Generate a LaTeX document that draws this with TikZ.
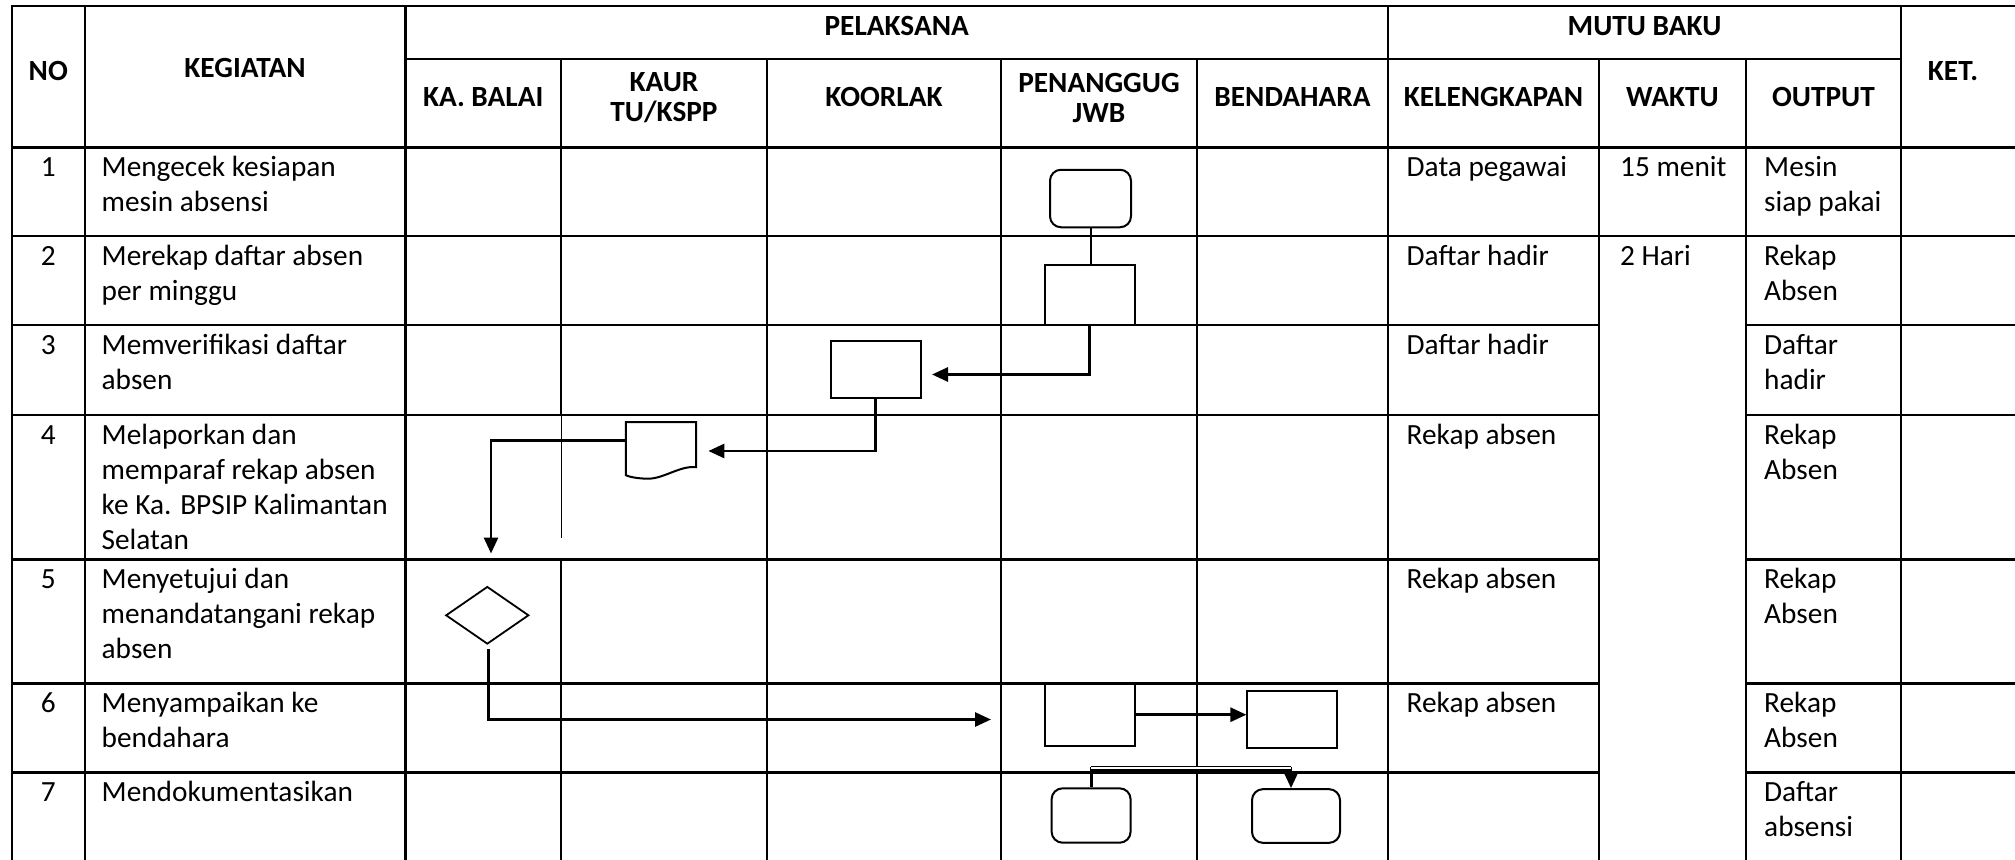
\documentclass[tikz,border=0pt]{standalone}
\usepackage{fontspec}
\setmainfont{Carlito}
\usetikzlibrary{arrows.meta,shapes.geometric,calc}

\newcommand{\cellfont}{\fontsize{29.3}{35}\selectfont}
\newcommand{\headfont}{\fontsize{29.3}{30.5}\selectfont\bfseries}

\begin{document}
\begin{tikzpicture}[x=1pt,y=-1pt,
  grid/.style={line width=2.3pt, line cap=rect},
  thin grid/.style={line width=1pt},
  txt/.style={inner sep=0pt, anchor=north west, align=left, font=\cellfont},
  num/.style={inner sep=0pt, anchor=north, font=\cellfont},
  head/.style={inner sep=0pt, align=center, font=\headfont},
  box/.style={draw, line width=2pt, inner sep=0pt},
  term/.style={box, rounded corners=11pt},
  link/.style={line width=2.8pt, -{Triangle[length=16pt,width=14pt]}},
  plain/.style={line width=2pt}
]
\useasboundingbox (0,0) rectangle (2015,859);

% ---------- table grid ----------
\draw[grid] (11.7,6) -- (2015,6);
\draw[grid] (405.5,59) -- (1901,59);
\draw[grid] (11.7,147.5) -- (2015,147.5);
\draw[grid] (11.7,236) -- (2015,236);
\foreach \y in {325,415,559.5,683.5,772.5}{
  \draw[grid] (11.7,\y) -- (1599,\y);
  \draw[grid] (1746,\y) -- (2015,\y);
}
\foreach \x in {11.7,85,405.5,1388,1901}
  \draw[grid] (\x,6) -- (\x,859);
\foreach \x in {767,1001,1197,1599,1746}
  \draw[grid] (\x,59) -- (\x,859);
\draw[grid] (561,59) -- (561,415);
\draw[grid] (561,559.5) -- (561,859);
\draw[thin grid] (561,415) -- (561,538.3);

% ---------- headers ----------
\node[head] (hNO) at (48.3,71) {NO};
\node[head] (hKEG) at (245,68) {KEGIATAN};
\node[head] (hPEL) at (896.7,26) {PELAKSANA};
\node[head] (hMUTU) at (1644.5,26) {MUTU BAKU};
\node[head] (hKET) at (1953,71) {KET.};
\node[head] (hKA) at (483.2,97) {KA. BALAI};
\node[head] (hKAUR) at (664,97.8) {KAUR\\TU/KSPP};
\node[head] (hKOOR) at (884,97) {KOORLAK};
\node[head] (hPJ) at (1099,97.8) {PENANGGUG\\JWB};
\node[head] (hBEN) at (1292.5,97) {BENDAHARA};
\node[head] (hKEL) at (1493.5,97) {KELENGKAPAN};
\node[head] (hWAK) at (1672.5,97) {WAKTU};
\node[head] (hOUT) at (1823.5,97) {OUTPUT};

% ---------- row texts (each starts with a strut so the first baseline is fixed) ----------
\node[num] (n1) at (48.3,152) {\strut 1};
\node[num] (n2) at (48.3,240.5) {\strut 2};
\node[num] (n3) at (48.3,329.5) {\strut 3};
\node[num] (n4) at (48.3,419.5) {\strut 4};
\node[num] (n5) at (48.3,564) {\strut 5};
\node[num] (n6) at (48.3,688) {\strut 6};
\node[num] (n7) at (48.3,777) {\strut 7};

\node[txt] (k1) at (101.5,152) {\strut Mengecek kesiapan\\mesin absensi};
\node[txt] (k2) at (101.5,240.5) {\strut Merekap daftar absen\\per minggu};
\node[txt] (k3) at (101.5,329.5) {\strut Memverifikasi daftar\\absen};
\node[txt] (k4) at (101.5,419.5) {\strut Melaporkan dan\\memparaf rekap absen\\ke Ka. BPSIP Kalimantan\\Selatan};
\node[txt] (k5) at (101.5,564) {\strut Menyetujui dan\\menandatangani rekap\\absen};
\node[txt] (k6) at (101.5,688) {\strut Menyampaikan ke\\bendahara};
\node[txt] (k7) at (101.5,777) {\strut Mendokumentasikan};

\node[txt] (l1) at (1406.5,152) {\strut Data pegawai};
\node[txt] (l2) at (1406.5,240.5) {\strut Daftar hadir};
\node[txt] (l3) at (1406.5,329.5) {\strut Daftar hadir};
\node[txt] (l4) at (1406.5,419.5) {\strut Rekap absen};
\node[txt] (l5) at (1406.5,564) {\strut Rekap absen};
\node[txt] (l6) at (1406.5,688) {\strut Rekap absen};

\node[txt] (w1) at (1620,152) {\strut 15 menit};
\node[txt] (w2) at (1620,240.5) {\strut 2 Hari};

\node[txt] (o1) at (1764,152) {\strut Mesin\\siap pakai};
\node[txt] (o2) at (1764,240.5) {\strut Rekap\\Absen};
\node[txt] (o3) at (1764,329.5) {\strut Daftar\\hadir};
\node[txt] (o4) at (1764,419.5) {\strut Rekap\\Absen};
\node[txt] (o5) at (1764,564) {\strut Rekap\\Absen};
\node[txt] (o6) at (1764,688) {\strut Rekap\\Absen};
\node[txt] (o7) at (1764,777) {\strut Daftar\\absensi};

% ---------- flow symbols ----------
\node[term, minimum width=81, minimum height=57.5] (s1) at (1090.5,198.5) {};
\node[box, minimum width=89.5, minimum height=59.5] (s2) at (1089.8,295.2) {};
\node[box, minimum width=89.5, minimum height=57.6] (s3) at (875.8,369.6) {};
\node[inner sep=0pt, minimum width=70.4, minimum height=54] (s4) at (660.8,449) {};
\begin{scope}[shift={(s4.south east)}]
  \draw[line width=2pt, line join=miter]
    (0,-9) .. controls (-16,-11) and (-33,3) .. (-49,2.5)
           .. controls (-58,2.3) and (-66,1) .. (-70.4,-1)
    -- (-70.4,-54) -- (0,-54) -- cycle;
\end{scope}
\node[draw, diamond, line width=1.8pt, inner sep=0pt, minimum width=83, minimum height=57.5] (s5) at (487.3,615.3) {};
\node[box, minimum width=89.5, minimum height=62.5] (s6) at (1089.8,714.7) {};
\node[box, minimum width=89.2, minimum height=57.3] (s6b) at (1292,719.6) {};
\node[term, minimum width=79, minimum height=54.4] (s7) at (1091.1,815.5) {};
\node[term, minimum width=88, minimum height=53.7] (s7b) at (1296,816) {};

% ---------- connectors ----------
\coordinate (a3) at (932,374.5);
\coordinate (a4) at (708.4,451);
\coordinate (a5) at (491,553.5);
\coordinate (a6) at (991,719.5);
\coordinate (k7) at (1291,768);

\draw[plain] (s1.south) -- (s1.south |- s2.north);
\draw[link] (s2.south) |- (a3);
\draw[link] (s3.south) |- (a4);
\draw[link] ($(s4.north west)+(0,19)$) -| (a5);
\draw[link] ($(s5.south)+(1,4)$) |- (a6);
\draw[link] (s6.east) -- (s6.east -| s6b.west);
\draw[link] (s7.north) |- (k7) -- (k7 |- s7b.north);
\draw[line width=1.2pt, double, double distance=2.6pt] (s7.north |- k7) -- (k7);
\end{tikzpicture}
\end{document}
